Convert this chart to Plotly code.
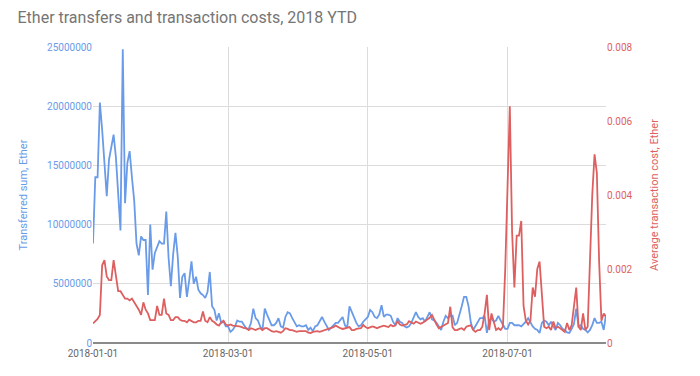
import pandas as pd
import plotly.graph_objects as go

dates = pd.date_range("2018-01-01", "2018-08-13", freq="D")

# Transferred sum, Ether (millions)
transferred_m = [
    8.4, 14.0, 14.0, 20.3, 18.0, 15.0, 12.4, 15.5, 16.5, 17.6,
    15.7, 12.0, 9.5, 24.8, 11.8, 15.2, 16.2, 14.0, 12.0, 8.4,
    7.4, 9.0, 8.7, 8.7, 4.05, 10.0, 6.2, 7.6, 8.2, 8.6,
    8.4, 8.4, 11.1, 7.2, 4.8, 7.5, 9.3, 7.3, 3.8, 5.6,
    5.9, 3.9, 5.3, 6.9, 5.0, 5.6, 4.5, 4.2, 4.05, 3.8,
    4.3, 6.0, 3.1, 2.8, 1.9, 2.5, 1.7, 1.8, 1.4, 1.4,
    0.95, 1.1, 1.4, 1.9, 1.8, 1.8, 1.5, 1.2, 1.2, 1.7,
    2.9, 2.1, 1.9, 1.4, 1.1, 2.9, 2.4, 1.9, 1.5, 1.5,
    1.7, 2.1, 1.4, 1.3, 2.2, 2.6, 2.5, 2.1, 1.7, 1.4,
    1.5, 1.4, 1.4, 1.5, 1.1, 1.3, 1.0, 1.4, 1.5, 1.9,
    2.2, 1.8, 1.5, 1.1, 1.3, 1.5, 1.7, 1.7, 2.0, 2.2,
    1.5, 1.3, 3.1, 2.6, 2.1, 1.7, 1.4, 1.5, 1.8, 2.0,
    2.2, 2.8, 2.6, 2.2, 2.1, 2.4, 3.2, 2.2, 2.4, 2.4,
    2.3, 1.8, 1.5, 2.1, 1.8, 1.7, 1.4, 1.3, 1.4, 1.7,
    2.1, 2.6, 2.2, 2.0, 2.1, 1.8, 2.2, 2.6, 2.0, 1.9,
    1.7, 1.4, 1.1, 1.8, 2.3, 2.1, 2.3, 2.3, 1.5, 1.7,
    2.3, 3.1, 3.9, 3.9, 3.1, 1.7, 1.1, 1.4, 1.8, 2.1,
    2.1, 2.3, 0.85, 1.9, 2.1, 1.8, 1.9, 2.3, 1.9, 1.5,
    1.2, 1.2, 1.7, 1.7, 1.5, 1.5, 1.5, 1.4, 1.6, 1.8,
    2.1, 1.7, 1.4, 1.2, 1.1, 0.85, 1.7, 1.9, 1.8, 1.5,
    1.8, 1.4, 1.1, 1.7, 1.5, 1.2, 1.1, 0.9, 0.85, 1.2,
    1.6, 2.9, 1.4, 1.5, 1.2, 1.1, 0.9, 1.1, 1.5, 2.1,
    1.7, 1.7, 1.8, 1.1, 2.4,
]

# Average transaction cost, Ether (units of 1e-4)
avg_cost_e4 = [
    5.3, 6.0, 6.5, 7.6, 21.0, 22.4, 18.0, 17.0, 17.0, 22.4,
    18.0, 14.0, 14.0, 13.0, 12.0, 12.0, 11.5, 12.0, 11.0, 10.0,
    9.0, 7.6, 11.0, 9.0, 8.0, 6.2, 6.2, 6.2, 10.0, 7.6,
    7.6, 12.0, 8.0, 7.6, 6.2, 6.2, 7.0, 7.0, 6.3, 6.0,
    6.0, 5.6, 6.3, 6.0, 5.6, 5.6, 6.0, 6.0, 8.5, 6.0,
    5.6, 7.0, 6.0, 5.6, 5.0, 4.7, 5.6, 6.0, 5.0, 4.7,
    5.0, 4.7, 4.7, 4.5, 4.5, 4.3, 4.0, 4.0, 3.5, 4.0,
    3.8, 3.5, 3.8, 4.0, 3.5, 4.0, 4.0, 3.5, 3.2, 3.0,
    3.2, 3.0, 2.8, 3.2, 4.0, 3.8, 3.5, 3.5, 3.2, 3.0,
    3.2, 3.2, 3.0, 3.2, 2.8, 2.7, 3.0, 3.2, 3.2, 3.0,
    3.2, 3.5, 3.5, 3.8, 4.0, 4.3, 4.7, 4.3, 4.0, 3.8,
    4.0, 4.0, 4.3, 3.5, 3.5, 3.8, 3.8, 4.0, 4.9, 4.3,
    4.0, 4.3, 4.5, 4.3, 4.0, 4.3, 4.5, 4.7, 4.5, 4.3,
    4.9, 4.5, 4.7, 5.9, 5.0, 4.7, 4.9, 5.0, 5.9, 5.5,
    5.2, 5.8, 5.5, 5.2, 5.5, 5.9, 6.5, 6.8, 7.6, 6.2,
    5.0, 4.0, 4.4, 4.8, 5.2, 5.4, 9.8, 4.2, 3.5, 3.5,
    3.8, 4.0, 3.5, 4.4, 4.6, 4.8, 3.5, 3.0, 3.5, 3.5,
    4.4, 8.0, 13.0, 3.5, 8.0, 6.0, 3.5, 4.0, 3.5, 4.4,
    20.0, 42.0, 64.0, 30.0, 15.0, 29.0, 29.0, 33.0, 10.0, 6.0,
    5.0, 6.0, 15.0, 12.5, 20.0, 22.0, 12.0, 4.4, 4.0, 4.4,
    3.5, 5.8, 4.0, 4.4, 4.0, 3.5, 3.0, 5.4, 3.5, 4.8,
    10.0, 15.0, 4.4, 3.5, 8.0, 3.5, 4.4, 22.0, 40.0, 51.0,
    46.0, 22.0, 6.0, 8.0, 7.0,
]

transferred = [v * 1e6 for v in transferred_m]
avg_cost = [v * 1e-4 for v in avg_cost_e4]

BLUE = "#6a9be8"
RED = "#de5f5f"
FONT = "Roboto"

fig = go.Figure()
fig.add_trace(go.Scatter(
    x=dates, y=transferred, mode="lines", name="Transferred sum, Ether",
    line=dict(color=BLUE, width=1.8), yaxis="y",
))
fig.add_trace(go.Scatter(
    x=dates, y=avg_cost, mode="lines", name="Average transaction cost, Ether",
    line=dict(color=RED, width=1.8), yaxis="y2",
))

fig.update_layout(
    width=700, height=376,
    margin=dict(l=93, r=94, t=47, b=33),
    paper_bgcolor="white", plot_bgcolor="white",
    showlegend=False,
    font=dict(family=FONT, color="#666666"),
    title=dict(
        text="Ether transfers and transaction costs, 2018 YTD",
        x=0.025, xanchor="left", y=0.955, yanchor="middle",
        font=dict(family=FONT, size=16, color="#757575"),
    ),
    xaxis=dict(
        range=["2018-01-01", "2018-08-13"],
        tick0="2018-01-01", dtick="M2", tickformat="%Y-%m-%d",
        showgrid=True, gridcolor="#dcdcdc", gridwidth=1,
        zeroline=False, showline=False, ticks="",
        ticklabelstandoff=3,
        tickfont=dict(size=10, color="#666666"),
    ),
    yaxis=dict(
        range=[0, 25000000], dtick=5000000, tickformat="d",
        showgrid=True, gridcolor="#dcdcdc", gridwidth=1,
        zeroline=True, zerolinecolor="#8a8a8a", zerolinewidth=2,
        showline=False, ticks="",
        tickfont=dict(size=10, color=BLUE),
        title=dict(text="Transferred sum, Ether", font=dict(size=11, color=BLUE), standoff=17),
    ),
    yaxis2=dict(
        range=[0, 0.008], dtick=0.002, overlaying="y", side="right",
        showgrid=False, zeroline=False, showline=False, ticks="",
        tickfont=dict(size=10, color=RED),
        title=dict(text="Average transaction cost, Ether", font=dict(size=11, color=RED), standoff=18),
    ),
)

fig.write_html(
    "out.html",
    config={"displayModeBar": False},
    post_script="document.body.style.margin='0';document.body.style.overflow='hidden';",
)
